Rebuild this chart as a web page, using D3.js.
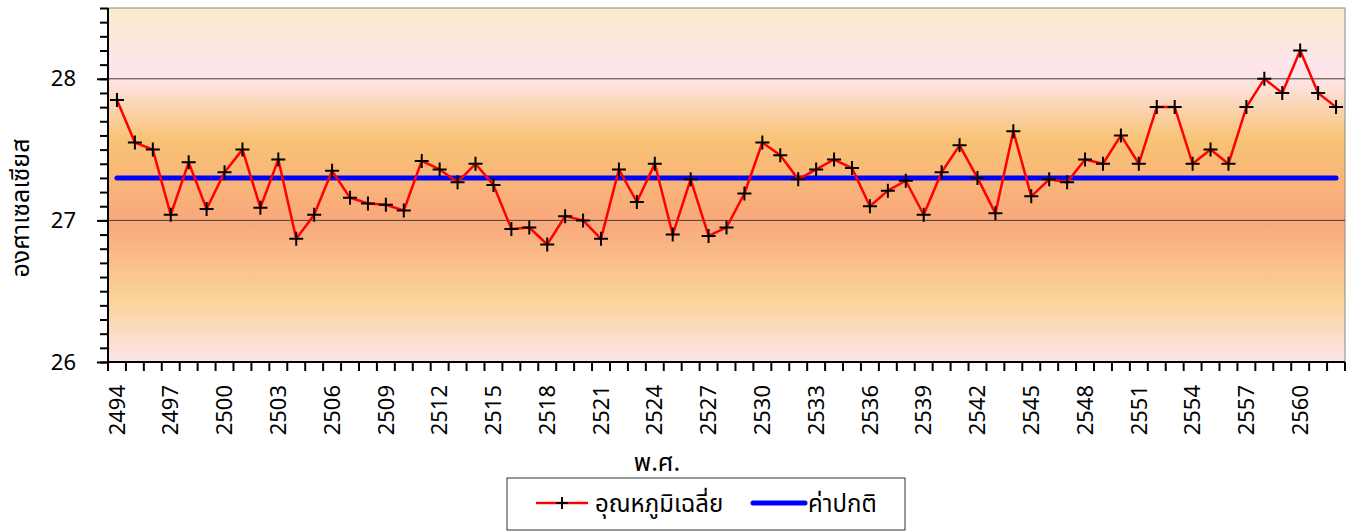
<!DOCTYPE html>
<html>
<head>
<meta charset="utf-8">
<script src="https://cdn.jsdelivr.net/npm/d3@7"></script>
<style>
  html, body { margin: 0; padding: 0; background: #fff; }
  svg { display: block; }
  text { font-family: "Noto Sans Thai", "Tahoma", "Noto Sans", "DejaVu Sans", sans-serif; fill: #000; }
</style>
</head>
<body>
<div id="chart"></div>
<script>
// พ.ศ. 2494 - 2562
const years = d3.range(2494, 2563)
const avgTemp = [
  27.85, 27.55, 27.50, 27.04, 27.41, 27.08, 27.34, 27.50, 27.09, 27.43,
  26.87, 27.04, 27.35, 27.16, 27.12, 27.11, 27.07, 27.42, 27.36, 27.27,
  27.40, 27.25, 26.94, 26.95, 26.83, 27.03, 27.00, 26.87, 27.36, 27.13,
  27.40, 26.90, 27.29, 26.89, 26.95, 27.19, 27.55, 27.46, 27.29, 27.36,
  27.43, 27.37, 27.10, 27.21, 27.28, 27.04, 27.34, 27.53, 27.30, 27.05,
  27.63, 27.17, 27.29, 27.27, 27.43, 27.40, 27.60, 27.40, 27.80, 27.80,
  27.40, 27.50, 27.40, 27.80, 28.00, 27.90, 28.20, 27.90, 27.80
]
const normalTemp = 27.3
const yTicks = [26, 27, 28]
const xLabelEvery = 3
const seriesNames = ['อุณหภูมิเฉลี่ย', 'ค่าปกติ']

const width = 1356
const height = 531
const margin = { top: 8, right: 11, bottom: 169, left: 108 }
const innerW = width - margin.left - margin.right
const innerH = height - margin.top - margin.bottom

const x = d3.scaleBand().domain(years).range([0, innerW]).padding(0)
const y = d3.scaleLinear().domain([26, 28.5]).range([innerH, 0])
const cx = d => x(d) + x.bandwidth() / 2

const svg = d3.select('#chart').append('svg')
  .attr('width', width)
  .attr('height', height)

const defs = svg.append('defs')
const bg = defs.append('linearGradient')
  .attr('id', 'plot-bg')
  .attr('x1', '0%').attr('y1', '0%')
  .attr('x2', '0%').attr('y2', '100%')
;[
  [0, '#fbeccd'], [0.16, '#fde5eb'], [0.21, '#fde3e2'], [0.37, '#f8c375'],
  [0.6, '#f9a87b'], [0.83, '#fad49b'], [1, '#fce4e9']
].forEach(([o, c]) => bg.append('stop').attr('offset', o).attr('stop-color', c))

const g = svg.append('g').attr('transform', `translate(${margin.left},${margin.top})`)

g.append('rect')
  .attr('width', innerW).attr('height', innerH)
  .attr('fill', 'url(#plot-bg)')
  .attr('stroke', '#888').attr('stroke-width', 1)

// gridlines
g.append('g')
  .selectAll('line')
  .data(yTicks.filter(t => t > 26))
  .join('line')
  .attr('x1', 0).attr('x2', innerW)
  .attr('y1', d => y(d)).attr('y2', d => y(d))
  .attr('stroke', '#404040').attr('stroke-width', 1)

// y axis: minor ticks every 0.1
const minor = d3.range(0, 26).map(i => 26 + i / 10)
g.append('g')
  .call(d3.axisLeft(y).tickValues(minor).tickSize(8).tickFormat(''))
  .call(ax => ax.select('.domain').remove())
  .call(ax => ax.selectAll('line').attr('stroke', '#000').attr('stroke-width', 2))

g.append('g')
  .call(d3.axisLeft(y).tickValues(yTicks).tickSize(11).tickPadding(21).tickFormat(d3.format('d')))
  .call(ax => ax.select('.domain').remove())
  .call(ax => ax.selectAll('line').attr('stroke', '#000').attr('stroke-width', 2))
  .call(ax => ax.selectAll('text').attr('font-size', 22).attr('fill', '#000'))

// x axis ticks at band boundaries
const xEdges = years.map(d => x(d)).concat([innerW])
g.append('g')
  .selectAll('line')
  .data(xEdges)
  .join('line')
  .attr('x1', d => d).attr('x2', d => d)
  .attr('y1', innerH).attr('y2', innerH + 9)
  .attr('stroke', '#000').attr('stroke-width', 2)

g.append('g')
  .selectAll('text')
  .data(years.filter((d, i) => i % xLabelEvery === 0))
  .join('text')
  .attr('transform', d => `translate(${cx(d)},${innerH + 23}) rotate(-90)`)
  .attr('text-anchor', 'end')
  .attr('dy', '0.35em')
  .attr('font-size', 22)
  .text(d => d)

// axis lines
g.append('line')
  .attr('x1', 0).attr('x2', 0).attr('y1', 0).attr('y2', innerH + 1)
  .attr('stroke', '#000').attr('stroke-width', 2)
g.append('line')
  .attr('x1', -1).attr('x2', innerW).attr('y1', innerH).attr('y2', innerH)
  .attr('stroke', '#000').attr('stroke-width', 2)

// normal line
g.append('line')
  .attr('x1', cx(years[0])).attr('x2', cx(years[years.length - 1]))
  .attr('y1', y(normalTemp)).attr('y2', y(normalTemp))
  .attr('stroke', '#0000ff').attr('stroke-width', 5).attr('stroke-linecap', 'round')

// average temperature line
const line = d3.line()
  .x((d, i) => cx(years[i]))
  .y(d => y(d))
g.append('path')
  .datum(avgTemp)
  .attr('fill', 'none')
  .attr('stroke', '#ff0000')
  .attr('stroke-width', 2.5)
  .attr('stroke-linejoin', 'round')
  .attr('d', line)

const plusPath = s => `M${-s},0H${s}M0,${-s}V${s}`
g.append('g')
  .selectAll('path')
  .data(avgTemp)
  .join('path')
  .attr('transform', (d, i) => `translate(${cx(years[i])},${y(d)})`)
  .attr('d', plusPath(7))
  .attr('stroke', '#000').attr('stroke-width', 2).attr('fill', 'none')

// axis titles
svg.append('text')
  .attr('transform', `translate(20,208) rotate(-90)`)
  .attr('text-anchor', 'middle')
  .attr('dy', '0.35em')
  .attr('font-size', 25)
  .text('องศาเซลเซียส')

svg.append('text')
  .attr('x', 657).attr('y', 471)
  .attr('text-anchor', 'middle')
  .attr('font-size', 25)
  .text('พ.ศ.')

// legend
const lg = svg.append('g').attr('transform', 'translate(507,478)')
lg.append('rect')
  .attr('width', 398).attr('height', 52)
  .attr('fill', '#fff').attr('stroke', '#333').attr('stroke-width', 1)
lg.append('line')
  .attr('x1', 29).attr('x2', 81).attr('y1', 25).attr('y2', 25)
  .attr('stroke', '#ff0000').attr('stroke-width', 2.5)
lg.append('path')
  .attr('transform', 'translate(55,25)')
  .attr('d', plusPath(6))
  .attr('stroke', '#000').attr('stroke-width', 2)
lg.append('text')
  .attr('x', 88).attr('y', 26).attr('dy', '0.35em')
  .attr('font-size', 24)
  .text(seriesNames[0])
lg.append('line')
  .attr('x1', 246).attr('x2', 298).attr('y1', 25).attr('y2', 25)
  .attr('stroke', '#0000ff').attr('stroke-width', 5).attr('stroke-linecap', 'round')
lg.append('text')
  .attr('x', 301).attr('y', 26).attr('dy', '0.35em')
  .attr('font-size', 24)
  .text(seriesNames[1])
</script>
</body>
</html>
